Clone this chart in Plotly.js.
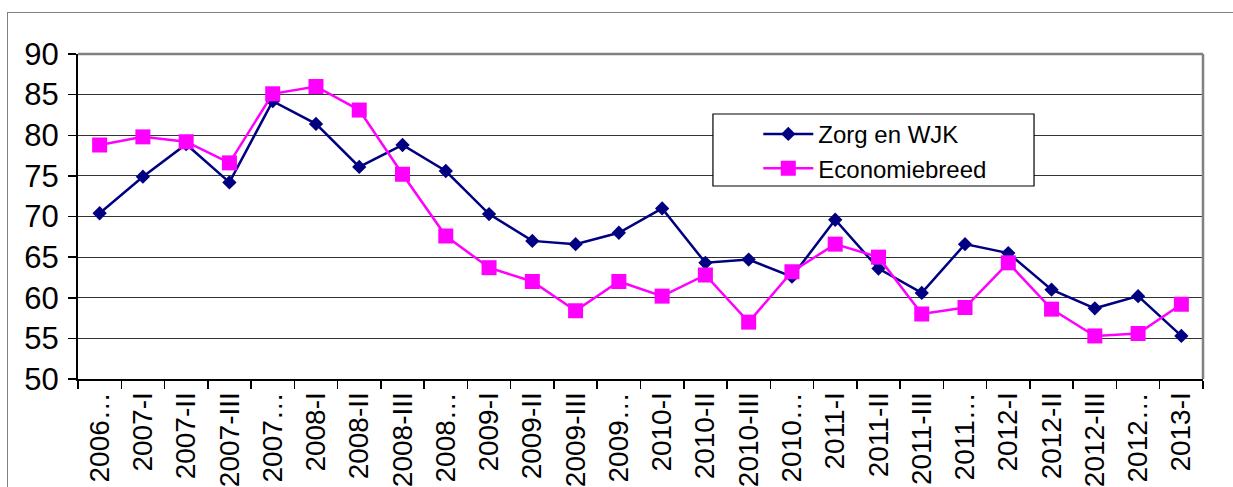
<!DOCTYPE html>
<html>
<head>
<meta charset="utf-8">
<script src="https://cdn.plot.ly/plotly-3.0.1.min.js"></script>
<style>
html,body{margin:0;padding:0;background:#fff;}
#wrap{position:relative;width:1233px;height:487px;overflow:hidden;}
#chart{width:1233px;height:487px;}
#frame{position:absolute;left:7px;top:12px;width:1300px;height:600px;border:1.5px solid #808080;pointer-events:none;}
</style>
</head>
<body>
<div id="wrap"><div id="chart"></div><div id="frame"></div></div>
<script>
const categories = ["2006…","2007-I","2007-II","2007-III","2007…","2008-I","2008-II","2008-III","2008…","2009-I","2009-II","2009-III","2009…","2010-I","2010-II","2010-III","2010…","2011-I","2011-II","2011-III","2011…","2012-I","2012-II","2012-III","2012…","2013-I"];
const zorgWJK = [70.4,74.9,78.9,74.2,84.2,81.4,76.1,78.8,75.6,70.3,67.0,66.6,68.0,71.0,64.3,64.7,62.6,69.6,63.6,60.6,66.6,65.5,61.0,58.7,60.2,55.3];
const economiebreed = [78.8,79.8,79.2,76.6,85.1,86.0,83.1,75.2,67.6,63.7,62.0,58.4,62.0,60.2,62.8,57.0,63.2,66.6,65.0,58.0,58.8,64.3,58.6,55.3,55.6,59.2];
const yTicks = [50,55,60,65,70,75,80,85,90];

const traces = [
  {x: categories, y: zorgWJK, name: "Zorg en WJK", type: "scatter", mode: "lines+markers",
   line: {color: "#000080", width: 2.5}, marker: {symbol: "diamond", size: 11, color: "#000080"}},
  {x: categories, y: economiebreed, name: "Economiebreed", type: "scatter", mode: "lines+markers",
   line: {color: "#FF00FF", width: 2.5}, marker: {symbol: "square", size: 15, color: "#FF00FF"}}
];

const layout = {
  width: 1233, height: 487,
  margin: {l: 78, r: 30, t: 54, b: 108},
  paper_bgcolor: "rgba(0,0,0,0)", plot_bgcolor: "#fff",
  font: {family: "Liberation Sans, Arial, sans-serif", color: "#000"},
  showlegend: true,
  legend: {x: 0.6047, y: 0.822, xanchor: "left", yanchor: "top", bgcolor: "rgba(0,0,0,0)",
    borderwidth: 0, font: {size: 24, color: "#000"}, itemwidth: 50, tracegroupgap: 0},
  xaxis: {type: "category", range: [-0.5, 25.5], tickangle: -90, tickfont: {size: 28}, showgrid: false,
    showline: true, linecolor: "#000", linewidth: 2, ticks: "outside", tickson: "boundaries",
    ticklen: 8, tickcolor: "#000", tickwidth: 1.5, automargin: false},
  yaxis: {range: [50, 90], tickvals: yTicks, tickfont: {size: 31}, showgrid: true,
    gridcolor: "#333", gridwidth: 1, showline: true, linecolor: "#000", linewidth: 2,
    ticks: "outside", ticklen: 8, tickcolor: "#000", tickwidth: 1.5, zeroline: false,
    ticklabelstandoff: 3, automargin: false},
  shapes: [
    {type: "line", xref: "paper", yref: "paper", x0: 0, x1: 1, y0: 1, y1: 1, line: {color: "#808080", width: 2.5}},
    {type: "line", xref: "paper", yref: "paper", x0: 1, x1: 1, y0: 0, y1: 1, line: {color: "#808080", width: 2.5}},
    {type: "rect", xref: "paper", yref: "paper", x0: 0.5644, x1: 0.8498, y0: 0.5938, y1: 0.8154,
     fillcolor: "#fff", line: {color: "#000", width: 1.2}, layer: "above"}
  ]
};
Plotly.newPlot("chart", traces, layout, {displayModeBar: false, staticPlot: true});
</script>
</body>
</html>
